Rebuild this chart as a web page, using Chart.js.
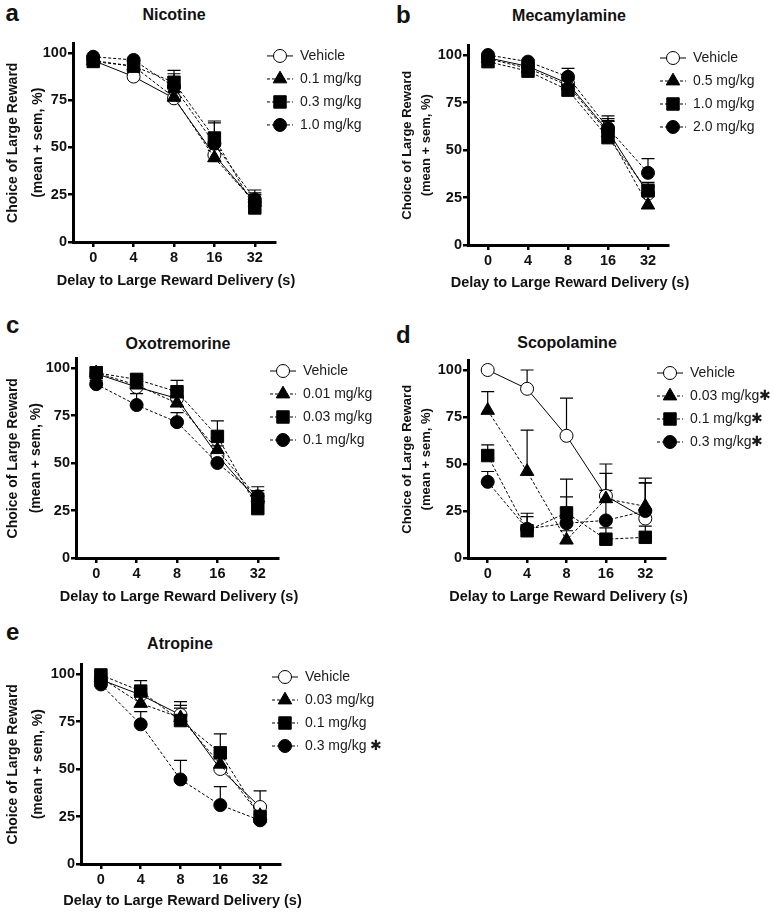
<!DOCTYPE html>
<html>
<head>
<meta charset="utf-8">
<script src="https://cdn.jsdelivr.net/npm/chart.js@4.4.1/dist/chart.umd.min.js"></script>
<style>
  body { margin: 0; background: #fff; }
  #page { position: relative; width: 774px; height: 916px; overflow: hidden;
          font-family: "Liberation Sans", Arial, sans-serif; color: #111; }
  canvas { position: absolute; }
  .letter { position: absolute; font-weight: bold; font-size: 24px; line-height: 24px; }
  .title { position: absolute; width: 240px; text-align: center; font-weight: bold;
           font-size: 16px; line-height: 16px; }
</style>
</head>
<body>
<div id="page"></div>
<script>
// x categories (delay, s) and y tick values
const delays = ['0', '4', '8', '16', '32'];
const yTicks = [0, 25, 50, 75, 100];

// a: nicotine
const nicotineDoses = ['Vehicle', '0.1 mg/kg', '0.3 mg/kg', '1.0 mg/kg'];
const nicotineMean = [
  [96, 87.5, 76, 46, 21],
  [96, 93, 76.5, 44.5, 21],
  [95.5, 93, 84.5, 55, 18],
  [98, 96.3, 82, 52, 22.5],
];
const nicotineSem = [
  [1, 2, 3, 5, 4],
  [1, 1.5, 3, 4, 4],
  [1, 1.5, 6.3, 9, 8],
  [0.5, 1, 7, 11, 5],
];

// b: mecamylamine
const mecamylamineDoses = ['Vehicle', '0.5 mg/kg', '1.0 mg/kg', '2.0 mg/kg'];
const mecamylamineMean = [
  [98.5, 94, 85, 60, 27],
  [98, 93, 84, 59, 21],
  [96.5, 91.5, 81.5, 56.5, 28.5],
  [100, 96.5, 88.5, 61.5, 38],
];
const mecamylamineSem = [
  [1, 1.5, 3, 5.5, 5],
  [1, 2, 3, 6, 10],
  [1, 2, 3, 10, 4.5],
  [0.5, 1, 4.5, 6.5, 7.5],
];

// c: oxotremorine
const oxotremorineDoses = ['Vehicle', '0.01 mg/kg', '0.03 mg/kg', '0.1 mg/kg'];
const oxotremorineMean = [
  [97, 90, 84, 54, 30],
  [97.5, 91, 81.5, 57, 31.5],
  [97.5, 94, 87.5, 64, 26],
  [91.5, 80.5, 71.5, 50, 32.5],
];
const oxotremorineSem = [
  [2, 3, 4, 5, 4],
  [2, 3, 4, 6, 4],
  [3, 2, 6, 8.2, 5],
  [2, 6, 5, 4, 5],
];

// d: scopolamine
const scopolamineDoses = ['Vehicle', '0.03 mg/kg\u2731', '0.1 mg/kg\u2731', '0.3 mg/kg\u2731'];
const scopolamineMean = [
  [100, 90, 65, 33, 21],
  [78.5, 46, 9.5, 31.5, 27.5],
  [54.5, 14.5, 24, 10, 11],
  [40.5, 15.5, 18.5, 20, 25],
];
const scopolamineSem = [
  [0, 10, 20, 17, 19],
  [10, 22, 5, 13.5, 15],
  [5.7, 9.3, 18, 6, 6],
  [5.5, 6.5, 14, 16, 15],
];

// e: atropine
const atropineDoses = ['Vehicle', '0.03 mg/kg', '0.1 mg/kg', '0.3 mg/kg \u2731'];
const atropineMean = [
  [97, 89, 78.5, 50, 30],
  [98, 84.5, 77, 52.5, 25.5],
  [99.5, 91, 75.5, 58.5, 25],
  [94.5, 73.5, 44.5, 31, 23],
];
const atropineSem = [
  [1.5, 3, 5, 6, 8.5],
  [1, 4, 5, 6, 5],
  [0.5, 5.5, 10, 10, 5],
  [1, 6.7, 10, 9.7, 3],
];

const xAxisTitle = 'Delay to Large Reward Delivery (s)';
const yAxisTitle = ['Choice of Large Reward', '(mean + sem, %)'];

const FONT = '"Liberation Sans", Arial, sans-serif';

// marker/line style per series: vehicle, low, mid, high dose
const seriesStyle = [
  { pointStyle: 'circle', pointRadius: 6.5, fill: '#fff', dash: [], order: 4 },
  { pointStyle: 'triangle', pointRadius: 7.8, fill: '#000', dash: [3, 2], order: 3 },
  { pointStyle: 'rect', pointRadius: 8.8, fill: '#000', dash: [3, 2], order: 2 },
  { pointStyle: 'circle', pointRadius: 6.5, fill: '#000', dash: [3, 2], order: 1 },
];

// upward-only sem bars, drawn under the markers
const semBars = {
  id: 'semBars',
  beforeDatasetsDraw(chart) {
    const { ctx } = chart;
    const y = chart.scales.y;
    ctx.save();
    ctx.strokeStyle = '#000';
    ctx.lineWidth = 1.2;
    chart.data.datasets.forEach((ds, i) => {
      const meta = chart.getDatasetMeta(i);
      ds.sem.forEach((e, j) => {
        if (!e) return;
        const px = meta.data[j].x;
        const y0 = y.getPixelForValue(ds.data[j]);
        const y1 = y.getPixelForValue(ds.data[j] + e);
        ctx.beginPath();
        ctx.moveTo(px, y0); ctx.lineTo(px, y1);
        ctx.moveTo(px - 6.5, y1); ctx.lineTo(px + 6.5, y1);
        ctx.stroke();
      });
    });
    ctx.restore();
  },
};

// legend: line segment with marker, then label
const doseLegend = {
  id: 'doseLegend',
  afterDraw(chart) {
    const { ctx, chartArea } = chart;
    const top = chart.scales.y.getPixelForValue(100) + 3;
    const r = chartArea.right;
    ctx.save();
    ctx.textBaseline = 'middle';
    ctx.font = '14px ' + FONT;
    chart.data.datasets.forEach((ds, i) => {
      const yy = top + i * 23;
      ctx.strokeStyle = '#000';
      ctx.lineWidth = 1;
      ctx.setLineDash(ds.borderDash);
      ctx.beginPath();
      ctx.moveTo(r - 8, yy); ctx.lineTo(r + 18, yy);
      ctx.stroke();
      ctx.setLineDash([]);
      ctx.fillStyle = ds.pointBackgroundColor;
      Chart.helpers.drawPoint(ctx, { pointStyle: ds.pointStyle, radius: ds.pointRadius, borderWidth: 1 }, r + 5, yy);
      ctx.fillStyle = '#1a1a1a';
      ctx.fillText(ds.label, r + 25, yy);
    });
    ctx.restore();
  },
};

function makePanel(letter, name, doses, mean, sem, L) {
  const page = document.getElementById('page');
  const [bx, by, bw, bh] = L.box;
  const [al, at, ar, ab] = L.area;

  const lt = document.createElement('div');
  lt.className = 'letter';
  lt.textContent = letter;
  lt.style.left = L.letter[0] + 'px';
  lt.style.top = (L.letter[1] - 20.3) + 'px';
  page.appendChild(lt);

  const tt = document.createElement('div');
  tt.className = 'title';
  tt.textContent = name;
  tt.style.left = (L.title[0] - 120) + 'px';
  tt.style.top = (L.title[1] - 13.5) + 'px';
  page.appendChild(tt);

  const cv = document.createElement('canvas');
  cv.width = bw; cv.height = bh;
  cv.style.left = bx + 'px'; cv.style.top = by + 'px';
  page.appendChild(cv);

  const xScaleBottom = L.xTitleY - by + 9;
  const [yt1, ytLH, ytSize] = L.yTitle;

  // x title drawn free of the axis width (scale titles get squeezed to it)
  const xCaption = {
    id: 'xCaption',
    afterDraw(chart) {
      const { ctx, chartArea } = chart;
      ctx.save();
      ctx.font = 'bold 14.5px ' + FONT;
      ctx.fillStyle = '#111';
      ctx.textAlign = 'center';
      ctx.textBaseline = 'middle';
      ctx.fillText(xAxisTitle, (chartArea.left + chartArea.right) / 2 + 2, L.xTitleY - by);
      ctx.restore();
    },
  };

  const axisGrid = { display: true, drawOnChartArea: false, drawTicks: true, tickLength: 5, color: '#000', lineWidth: 2.5 };
  const axisBorder = { display: true, color: '#000', width: 3 };
  const tickFont = { family: FONT, size: 14.5, weight: 'bold' };

  new Chart(cv, {
    type: 'line',
    data: {
      labels: delays,
      datasets: doses.map((d, i) => ({
        label: d,
        data: mean[i],
        sem: sem[i],
        borderColor: '#000',
        borderWidth: 1,
        borderDash: seriesStyle[i].dash,
        tension: 0,
        pointStyle: seriesStyle[i].pointStyle,
        pointRadius: seriesStyle[i].pointRadius,
        pointBackgroundColor: seriesStyle[i].fill,
        pointBorderColor: '#000',
        pointBorderWidth: 1,
        order: seriesStyle[i].order,
        clip: false,
      })),
    },
    options: {
      responsive: false,
      animation: false,
      devicePixelRatio: 1,
      events: [],
      layout: { padding: { left: 0, top: at - by, right: bx + bw - ar, bottom: bh - xScaleBottom } },
      plugins: { legend: { display: false }, tooltip: { enabled: false } },
      scales: {
        x: {
          type: 'category',
          offset: true,
          grid: axisGrid,
          border: axisBorder,
          ticks: { font: tickFont, color: '#111', padding: 2, maxRotation: 0, autoSkip: false },
          afterFit: (s) => { s.height = xScaleBottom - (ab - by); },
        },
        y: {
          min: 0,
          max: 105,
          grid: axisGrid,
          border: axisBorder,
          ticks: { font: tickFont, color: '#111', padding: 1 },
          afterBuildTicks: (s) => { s.ticks = yTicks.map((v) => ({ value: v })); },
          title: {
            display: true,
            text: yAxisTitle,
            color: '#111',
            font: { family: FONT, size: ytSize, weight: 'bold', lineHeight: ytLH + 'px' },
            padding: { top: yt1 - bx - ytLH / 2, bottom: 0 },
          },
          afterFit: (s) => { s.width = al - bx; },
        },
      },
    },
    plugins: [semBars, doseLegend, xCaption],
  });
}

makePanel('a', 'Nicotine', nicotineDoses, nicotineMean, nicotineSem, {
  box: [0, 0, 387, 300], area: [73, 43.5, 275, 242], xTitleY: 281,
  yTitle: [12.7, 25, 14], letter: [5.5, 21], title: [174, 20.7],
});
makePanel('b', 'Mecamylamine', mecamylamineDoses, mecamylamineMean, mecamylamineSem, {
  box: [390, 0, 384, 300], area: [468, 45.5, 668, 245], xTitleY: 283,
  yTitle: [407.7, 18.3, 13], letter: [396, 23], title: [569, 21.7],
});
makePanel('c', 'Oxotremorine', oxotremorineDoses, oxotremorineMean, oxotremorineSem, {
  box: [0, 300, 387, 315], area: [76, 358.5, 278, 558], xTitleY: 597,
  yTitle: [12.8, 23.3, 14], letter: [6, 333], title: [178, 349],
});
makePanel('d', 'Scopolamine', scopolamineDoses, scopolamineMean, scopolamineSem, {
  box: [390, 300, 384, 315], area: [468, 360.6, 665, 558], xTitleY: 597,
  yTitle: [407.7, 18.3, 13], letter: [396, 343], title: [567, 348],
});
makePanel('e', 'Atropine', atropineDoses, atropineMean, atropineSem, {
  box: [0, 615, 387, 301], area: [81, 664.5, 280, 864], xTitleY: 901,
  yTitle: [12.7, 25, 14], letter: [6, 640], title: [180, 649],
});
</script>
</body>
</html>
